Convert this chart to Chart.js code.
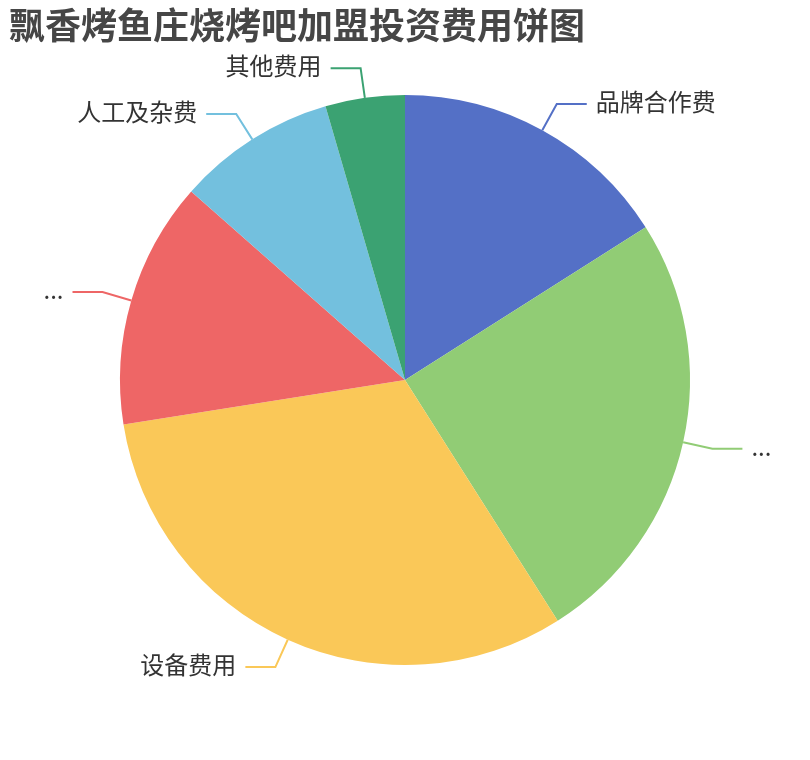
<!DOCTYPE html>
<html>
<head>
<meta charset="utf-8">
<script src="https://cdn.jsdelivr.net/npm/chart.js@4.4.1/dist/chart.umd.min.js"></script>
<style>
  html, body { margin: 0; padding: 0; background: #ffffff; }
  #wrap { width: 810px; height: 760px; position: relative; }
</style>
</head>
<body>
<div id="wrap"><canvas id="c" width="810" height="760"></canvas></div>
<script>
const titleText = '飘香烤鱼庄烧烤吧加盟投资费用饼图';
const categories = ['品牌合作费', '加盟费', '设备费用', '店面装修费', '人工及杂费', '其他费用'];
const labelTexts = ['品牌合作费', '...', '设备费用', '...', '人工及杂费', '其他费用'];
const values = [16, 25, 31.5, 14, 9, 4.5];
const colors = ['#5470c6', '#91cc75', '#fac858', '#ee6666', '#73c0de', '#3ba272'];

const FONT = '"Noto Sans CJK SC", "Noto Sans", sans-serif';

const outsideLabels = {
  id: 'outsideLabels',
  afterDatasetsDraw(chart) {
    const ctx = chart.ctx;
    const meta = chart.getDatasetMeta(0);
    ctx.save();
    meta.data.forEach((arc, i) => {
      const p = arc.getProps(['x', 'y', 'startAngle', 'endAngle', 'outerRadius'], true);
      const mid = (p.startAngle + p.endAngle) / 2;
      const cos = Math.cos(mid), sin = Math.sin(mid);
      const r = p.outerRadius;
      const x0 = p.x + r * cos, y0 = p.y + r * sin;
      const x1 = p.x + (r + 30) * cos, y1 = p.y + (r + 30) * sin;
      const dir = cos >= 0 ? 1 : -1;
      const x2 = x1 + dir * 30, y2 = y1;
      ctx.beginPath();
      ctx.moveTo(x0, y0);
      ctx.lineTo(x1, y1);
      ctx.lineTo(x2, y2);
      ctx.strokeStyle = colors[i];
      ctx.lineWidth = 2;
      ctx.stroke();
      ctx.fillStyle = '#333333';
      ctx.font = '24px ' + FONT;
      ctx.textBaseline = 'middle';
      ctx.textAlign = dir > 0 ? 'left' : 'right';
      ctx.fillText(labelTexts[i], x2 + dir * 9, y2 - 2);
    });
    ctx.fillStyle = '#464646';
    ctx.font = 'bold 36px ' + FONT;
    ctx.textAlign = 'left';
    ctx.textBaseline = 'middle';
    ctx.fillText(titleText, 9, 25);
    ctx.restore();
  }
};

new Chart(document.getElementById('c'), {
  type: 'pie',
  data: {
    labels: categories,
    datasets: [{
      data: values,
      backgroundColor: colors,
      borderWidth: 0,
      hoverOffset: 0
    }]
  },
  options: {
    responsive: false,
    animation: false,
    events: [],
    layout: { padding: { left: 120, right: 120, top: 95, bottom: 95 } },
    plugins: {
      legend: { display: false },
      title: { display: false },
      tooltip: { enabled: false }
    }
  },
  plugins: [outsideLabels]
});
</script>
</body>
</html>
